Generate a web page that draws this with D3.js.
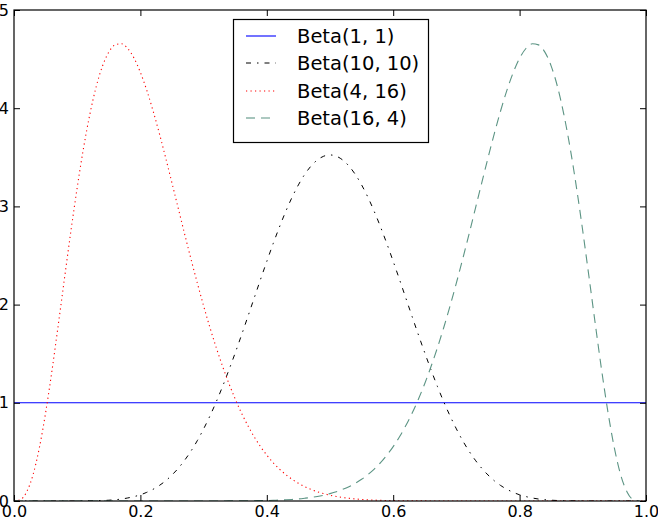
<!DOCTYPE html>
<html><head><meta charset="utf-8">
<script src="https://cdn.jsdelivr.net/npm/d3@7"></script>
<style>body{margin:0;background:#fff}svg{display:block}</style>
</head><body>
<script>
// ---- data ----
const xGrid = [0.00,0.01,0.02,0.03,0.04,0.05,0.06,0.07,0.08,0.09,
0.10,0.11,0.12,0.13,0.14,0.15,0.16,0.17,0.18,0.19,
0.20,0.21,0.22,0.23,0.24,0.25,0.26,0.27,0.28,0.29,
0.30,0.31,0.32,0.33,0.34,0.35,0.36,0.37,0.38,0.39,
0.40,0.41,0.42,0.43,0.44,0.45,0.46,0.47,0.48,0.49,
0.50,0.51,0.52,0.53,0.54,0.55,0.56,0.57,0.58,0.59,
0.60,0.61,0.62,0.63,0.64,0.65,0.66,0.67,0.68,0.69,
0.70,0.71,0.72,0.73,0.74,0.75,0.76,0.77,0.78,0.79,
0.80,0.81,0.82,0.83,0.84,0.85,0.86,0.87,0.88,0.89,
0.90,0.91,0.92,0.93,0.94,0.95,0.96,0.97,0.98,0.99,1.00];

const beta11X = [0, 1];
const beta11Y = [1, 1];

const beta1010Y = [0,0,0,0,0,0,0,0,0,0,
0.000,0.001,0.002,0.003,0.005,0.008,0.013,0.020,0.031,0.045,
0.063,0.088,0.119,0.158,0.206,0.265,0.334,0.415,0.508,0.614,
0.734,0.866,1.010,1.166,1.333,1.508,1.690,1.877,2.066,2.255,
2.440,2.620,2.790,2.949,3.093,3.219,3.326,3.411,3.473,3.511,
3.524,3.511,3.473,3.411,3.326,3.219,3.093,2.949,2.790,2.620,
2.440,2.255,2.066,1.877,1.690,1.508,1.333,1.166,1.010,0.866,
0.734,0.614,0.508,0.415,0.334,0.265,0.206,0.158,0.119,0.088,
0.063,0.045,0.031,0.020,0.013,0.008,0.005,0.003,0.002,0.001,
0.000,0,0,0,0,0,0,0,0,0,0];

const beta416Y = [0,0.013,0.092,0.265,0.538,0.898,1.324,1.791,2.273,2.747,
3.192,3.593,3.937,4.218,4.429,4.571,4.645,4.656,4.608,4.509,
4.364,4.184,3.974,3.742,3.494,3.237,2.978,2.718,2.465,2.221,
1.987,1.767,1.562,1.372,1.197,1.039,0.895,0.768,0.654,0.554,
0.467,0.390,0.325,0.269,0.221,0.180,0.146,0.118,0.094,0.075,
0.059,0.046,0.036,0.028,0.021,0.016,0.012,0.009,0.007,0.005,
0.004,0.003,0.002,0.001,0.001,0.001,0,0,0,0,
0,0,0,0,0,0,0,0,0,0,
0,0,0,0,0,0,0,0,0,0,
0,0,0,0,0,0,0,0,0,0,0];

const beta164Y = [0,0,0,0,0,0,0,0,0,0,
0,0,0,0,0,0,0,0,0,0,
0,0,0,0,0,0,0,0,0,0,
0,0,0,0,0.001,0.001,0.001,0.002,0.003,0.004,
0.005,0.007,0.009,0.012,0.016,0.021,0.028,0.036,0.046,0.059,
0.075,0.094,0.118,0.146,0.180,0.221,0.269,0.325,0.390,0.467,
0.554,0.654,0.768,0.895,1.039,1.197,1.372,1.562,1.767,1.987,
2.221,2.465,2.718,2.978,3.237,3.494,3.742,3.974,4.184,4.364,
4.509,4.608,4.656,4.645,4.571,4.429,4.218,3.937,3.593,3.192,
2.747,2.273,1.791,1.324,0.898,0.538,0.265,0.092,0.013,0];

const xTicks = [0.0, 0.2, 0.4, 0.6, 0.8, 1.0];
const yTicks = [0, 1, 2, 3, 4, 5];
const seriesNames = ["Beta(1, 1)", "Beta(10, 10)", "Beta(4, 16)", "Beta(16, 4)"];

// ---- drawing ----
const W = 658, H = 520;
const L = 14, R = 646, T = 10, B = 501;
const svg = d3.select("body").append("svg").attr("width", W).attr("height", H);
const x = d3.scaleLinear().domain([0, 1]).range([L, R]);
const y = d3.scaleLinear().domain([0, 5]).range([B, T]);

const styles = [
  {color: "#0000ff", dash: null, width: 1.1},
  {color: "#000000", dash: "5,6,1.5,6", width: 1},
  {color: "#ff0000", dash: "1.2,3.3", width: 1.1},
  {color: "#5c9484", dash: "9,6", width: 1.1}
];
const series = [
  beta11X.map((v, i) => [v, beta11Y[i]]),
  xGrid.map((v, i) => [v, beta1010Y[i]]),
  xGrid.map((v, i) => [v, beta416Y[i]]),
  xGrid.map((v, i) => [v, beta164Y[i]])
];

const g = svg.append("g");
g.append("defs").append("clipPath").attr("id", "clip")
  .append("rect").attr("x", L).attr("y", T).attr("width", R - L).attr("height", B - T);

const line = d3.line().x(d => x(d[0])).y(d => y(d[1])).curve(d3.curveMonotoneX);
const plot = g.append("g").attr("clip-path", "url(#clip)");
series.forEach((s, i) => {
  plot.append("path").datum(s).attr("d", line)
    .attr("fill", "none").attr("stroke", styles[i].color)
    .attr("stroke-width", styles[i].width)
    .attr("stroke-dasharray", styles[i].dash);
});

// axes with inward ticks on all sides
const font = "DejaVu Sans, sans-serif";
const axB = d3.axisBottom(x).tickValues(xTicks).tickFormat(d3.format(".1f")).tickSizeInner(-6).tickSizeOuter(0).tickPadding(5);
const axT = d3.axisTop(x).tickValues(xTicks).tickFormat("").tickSizeInner(-6).tickSizeOuter(0);
const axL = d3.axisLeft(y).tickValues(yTicks).tickFormat(d3.format("d")).tickSizeInner(-6).tickSizeOuter(0).tickPadding(5);
const axR = d3.axisRight(y).tickValues(yTicks).tickFormat("").tickSizeInner(-6).tickSizeOuter(0);

function styleAxis(sel) {
  sel.select(".domain").remove();
  sel.selectAll("line").attr("stroke", "#000");
  sel.selectAll("text").attr("fill", "#000").style("font-family", font).style("font-size", "16px");
}
g.append("g").attr("transform", `translate(0,${B})`).call(axB).call(styleAxis);
g.append("g").attr("transform", `translate(0,${T})`).call(axT).call(styleAxis);
g.append("g").attr("transform", `translate(${L},0)`).call(axL).call(styleAxis);
g.append("g").attr("transform", `translate(${R},0)`).call(axR).call(styleAxis);

g.append("rect").attr("x", L).attr("y", T).attr("width", R - L).attr("height", B - T)
  .attr("fill", "none").attr("stroke", "#000").attr("stroke-width", 1.2);

// legend
const lg = g.append("g");
lg.append("rect").attr("x", 233.5).attr("y", 19.5).attr("width", 195).attr("height", 123)
  .attr("fill", "#fff").attr("stroke", "#000").attr("stroke-width", 1.2);
const rowY = [36, 63, 91, 118];
seriesNames.forEach((name, i) => {
  lg.append("line").attr("x1", 246).attr("x2", 276).attr("y1", rowY[i]).attr("y2", rowY[i])
    .attr("stroke", styles[i].color).attr("stroke-width", styles[i].width)
    .attr("stroke-dasharray", styles[i].dash);
  lg.append("text").attr("x", 297).attr("y", rowY[i]).attr("dy", "0.36em")
    .style("font-family", font).style("font-size", "19.5px").attr("fill", "#000").text(name);
});
</script>
</body></html>
